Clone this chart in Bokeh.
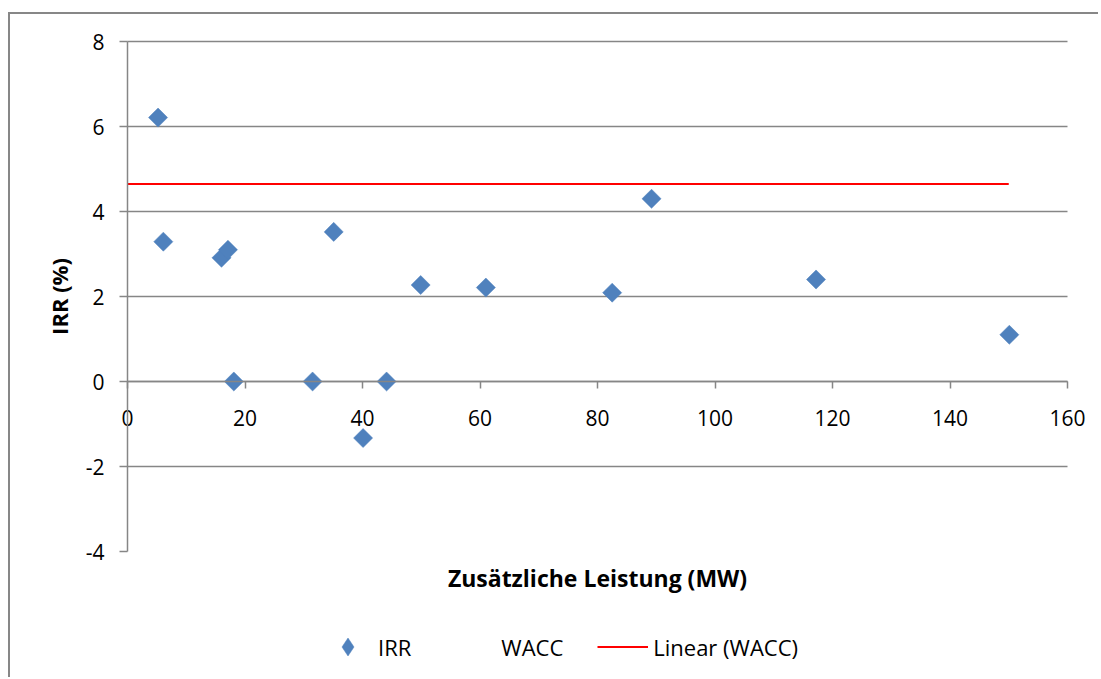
import numpy as np
from bokeh.plotting import figure
from bokeh.models import Legend, LegendItem, FixedTicker, Range1d, LinearAxis
from bokeh.embed import file_html
from bokeh.resources import INLINE

# ---- data ----
irr_x = [5.2, 6.1, 16.0, 17.1, 18.1, 31.5, 35.1, 40.1, 44.1, 49.9, 61.0, 82.5, 89.2, 117.2, 150.1]
irr_y = [6.21, 3.29, 2.91, 3.10, 0.0, 0.0, 3.52, -1.33, 0.0, 2.27, 2.21, 2.09, 4.30, 2.40, 1.10]
wacc_x = [0, 150]
wacc_y = [4.65, 4.65]
x_ticks = [0, 20, 40, 60, 80, 100, 120, 140, 160]
y_ticks = [-4, -2, 0, 2, 4, 6, 8]

# linear trendline of WACC series
coef = np.polyfit(wacc_x, wacc_y, 1)
trend_y = list(np.polyval(coef, wacc_x))

FONT = "Open Sans"
GRAY = "#868686"
BLUE = "#4F81BD"

XMIN, XMAX = x_ticks[0], x_ticks[-1]
YMIN, YMAX = y_ticks[0], y_ticks[-1]

# layout: canvas 1090x665 whose whole area is the frame; plot area 940x510 px
W, H = 1090, 665
PL, PT = 117, 27          # plot-area offset inside the canvas
PW, PH = 940, 510
sx = (XMAX - XMIN) / PW
sy = (YMAX - YMIN) / PH
x_range = Range1d(XMIN - PL * sx, XMAX + (W - PL - PW) * sx)
y_range = Range1d(YMIN - (H - PT - PH) * sy, YMAX + PT * sy)

p = figure(width=W, height=H, output_backend="svg", toolbar_location=None,
           x_range=x_range, y_range=y_range,
           min_border=0, min_border_left=0, min_border_right=0,
           min_border_top=0, min_border_bottom=0,
           styles={"border-left": "2px solid #878787", "border-top": "2px solid #878787",
                   "margin-top": "12px", "margin-left": "8px"})
p.title.visible = False
p.outline_line_color = None
p.background_fill_color = "white"
p.border_fill_color = "white"

# horizontal gridlines across the plot area only
p.xgrid.visible = False
p.ygrid.ticker = FixedTicker(ticks=[t for t in y_ticks if t > YMIN])
p.ygrid.grid_line_color = GRAY
p.ygrid.grid_line_width = 1.5
p.ygrid.cross_bounds = (XMIN, XMAX)

# x axis crossing at y=0
xa = p.xaxis[0]
xa.fixed_location = 0
xa.bounds = (XMIN, XMAX)
xa.ticker = FixedTicker(ticks=x_ticks)
xa.axis_line_color = GRAY
xa.axis_line_width = 1.5
xa.major_tick_line_color = GRAY
xa.major_tick_line_width = 1.5
xa.major_tick_out = 7
xa.major_tick_in = 0
xa.minor_tick_line_color = None
xa.major_label_text_font = FONT
xa.major_label_text_font_size = "21px"
xa.major_label_text_color = "black"
xa.major_label_standoff = 21

# y axis at x=0
ya = p.yaxis[0]
ya.fixed_location = 0
ya.bounds = (YMIN, YMAX)
ya.ticker = FixedTicker(ticks=y_ticks)
ya.axis_line_color = GRAY
ya.axis_line_width = 1.5
ya.major_tick_line_color = GRAY
ya.major_tick_line_width = 1.5
ya.major_tick_out = 8
ya.major_tick_in = 0
ya.minor_tick_line_color = None
ya.major_label_overrides = {t: str(t) for t in y_ticks}
ya.major_label_text_font = FONT
ya.major_label_text_font_size = "21px"
ya.major_label_text_color = "black"
ya.major_label_standoff = 15
ya.axis_label = "IRR (%)"
ya.axis_label_text_font = FONT
ya.axis_label_text_font_size = "22px"
ya.axis_label_text_font_style = "bold"
ya.axis_label_text_color = "black"
ya.axis_label_standoff = 9

# x-axis title under the plot area (label-only axis at the bottom of the plot area)
xt = LinearAxis(fixed_location=YMIN, bounds=(XMIN, XMAX), ticker=FixedTicker(ticks=[]),
                axis_line_color=None, major_tick_line_color=None, minor_tick_line_color=None,
                axis_label="Zusätzliche Leistung (MW)", axis_label_standoff=10,
                axis_label_text_font=FONT, axis_label_text_font_size="23px",
                axis_label_text_font_style="bold", axis_label_text_color="black")
p.add_layout(xt, "below")

# series
r_wacc = p.line(wacc_x, wacc_y, line_alpha=0)
r_trend = p.line(wacc_x, trend_y, line_color="#FF0000", line_width=2)
r_irr = p.scatter(irr_x, irr_y, marker="square", angle=np.pi / 4, size=13.5,
                  fill_color=BLUE, line_color=BLUE, line_width=0.5)
# same IRR points as a hidden diamond renderer, used for the legend symbol
r_irr_key = p.scatter(irr_x, irr_y, marker="diamond", size=18, visible=False,
                      fill_color=BLUE, line_color=BLUE, line_width=0.5)

legend = Legend(items=[LegendItem(label="IRR", renderers=[r_irr_key]),
                       LegendItem(label="WACC", renderers=[r_wacc]),
                       LegendItem(label="Linear (WACC)", renderers=[r_trend])],
                orientation="horizontal", location=(312, 10),
                glyph_width=51, glyph_height=45, label_standoff=5, spacing=34,
                padding=0, margin=0, border_line_color=None, background_fill_alpha=0,
                inactive_fill_alpha=0,
                label_text_font=FONT, label_text_font_size="22px", label_text_color="black")
p.add_layout(legend, "center")

open("out.html", "w").write(file_html(p, INLINE))
